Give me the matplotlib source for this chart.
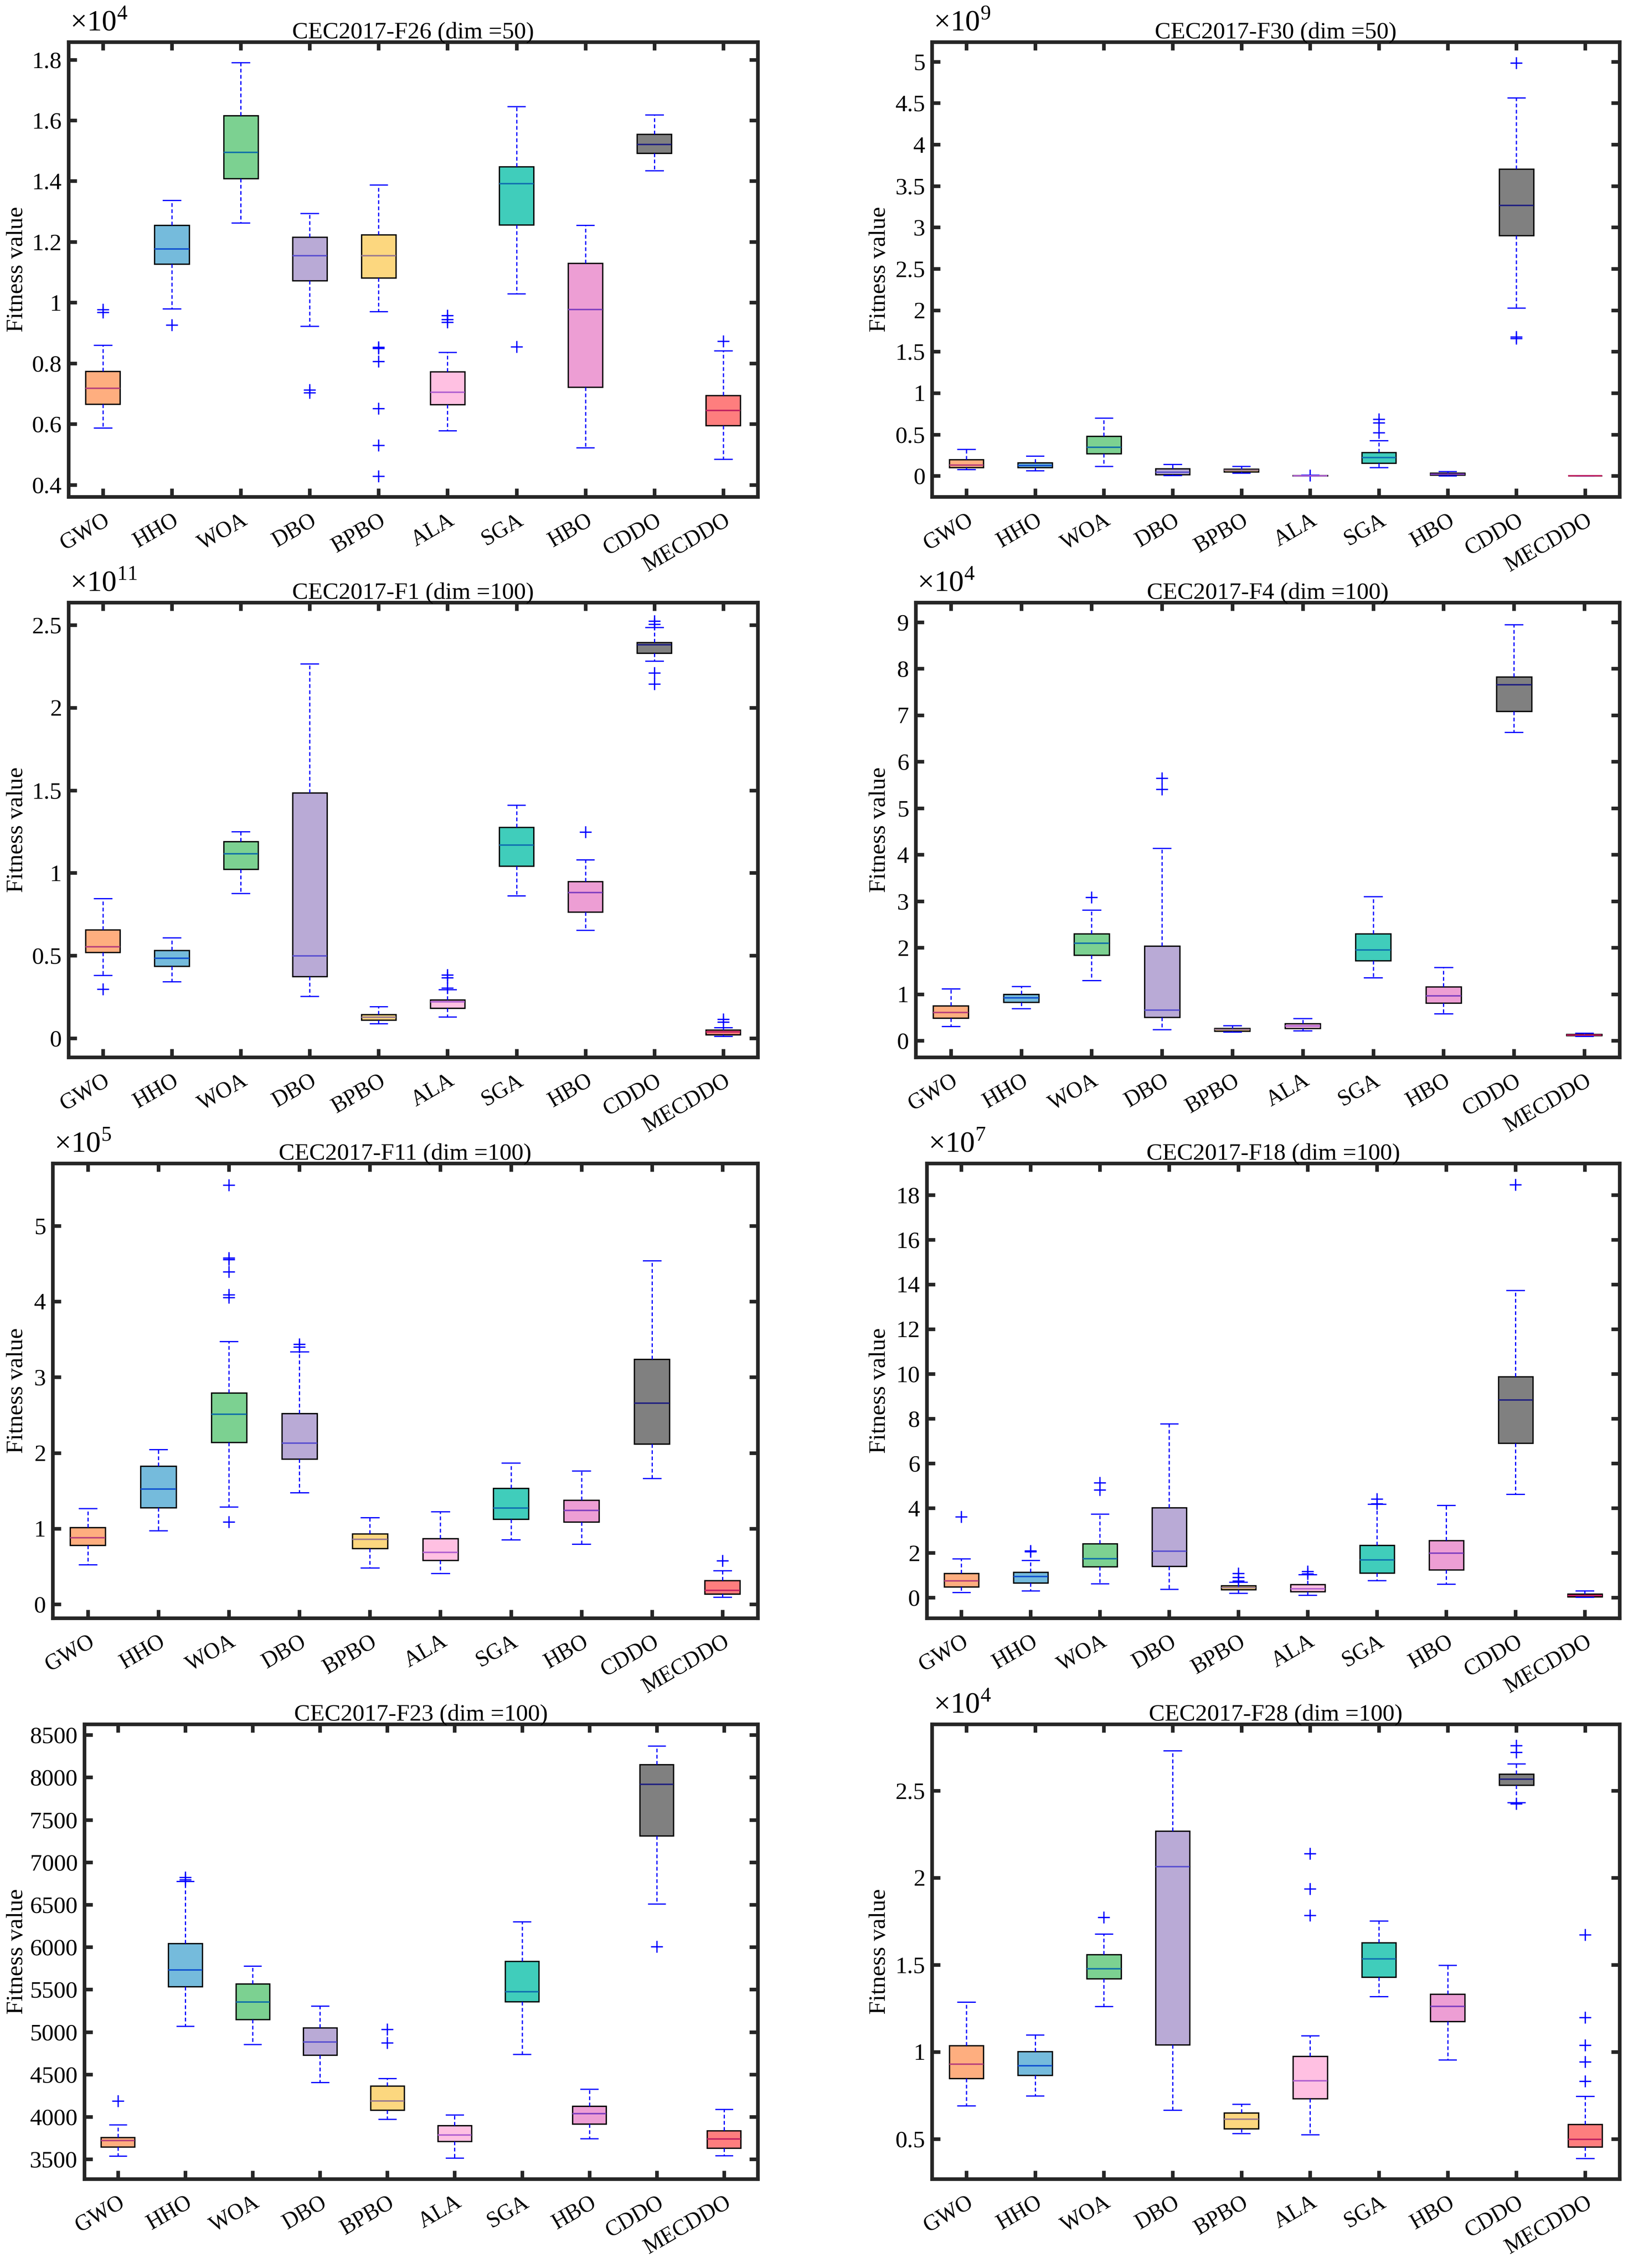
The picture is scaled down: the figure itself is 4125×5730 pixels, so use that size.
import numpy as np
import matplotlib
matplotlib.use('Agg')
import matplotlib.pyplot as plt
from matplotlib.ticker import FuncFormatter

plt.rcParams['font.family'] = ['Liberation Serif', 'DejaVu Serif']
plt.rcParams['mathtext.fontset'] = 'custom'
plt.rcParams['mathtext.rm'] = 'Liberation Serif'
plt.rcParams['font.size'] = 14.5

ALGOS = ['GWO', 'HHO', 'WOA', 'DBO', 'BPBO', 'ALA', 'SGA', 'HBO', 'CDDO', 'MECDDO']
BOX_COLORS = ['#FEAE7F', '#75BBDC', '#7CD191', '#B9AAD6', '#FCD77F',
              '#FFC0E2', '#40CDBB', '#ED9ED4', '#808080', '#FE7E7E']
MED_COLORS = ['#B8407A', '#1050D0', '#106FA8', '#5A50D0', '#9A7A90',
              '#B060D0', '#1070B0', '#8040C0', '#202080', '#C02060']

# CEC2017-F26 (dim=50), x1e4
f26_lo = [0.587, 0.980, 1.262, 0.923, 0.971, 0.579, 1.029, 0.523, 1.435, 0.484]
f26_q1 = [0.666, 1.127, 1.408, 1.072, 1.081, 0.664, 1.256, 0.722, 1.492, 0.595]
f26_med = [0.718, 1.176, 1.495, 1.155, 1.154, 0.705, 1.392, 0.977, 1.520, 0.645]
f26_q3 = [0.774, 1.255, 1.616, 1.216, 1.223, 0.773, 1.447, 1.129, 1.555, 0.694]
f26_hi = [0.860, 1.337, 1.790, 1.294, 1.388, 0.836, 1.645, 1.255, 1.618, 0.842]
f26_out = [[0.977, 0.968], [0.926], [], [0.712, 0.704],
           [0.853, 0.849, 0.806, 0.652, 0.530, 0.428], [0.958, 0.945, 0.935],
           [0.855], [], [], [0.873]]

# CEC2017-F30 (dim=50), x1e9
f30_lo = [0.078, 0.061, 0.117, 0.004, 0.035, 0.000, 0.100, 0.000, 2.025, 0.0005]
f30_q1 = [0.100, 0.100, 0.269, 0.017, 0.048, 0.001, 0.152, 0.009, 2.901, 0.001]
f30_med = [0.130, 0.126, 0.347, 0.043, 0.069, 0.002, 0.221, 0.022, 3.265, 0.0015]
f30_q3 = [0.195, 0.156, 0.477, 0.087, 0.082, 0.004, 0.282, 0.035, 3.703, 0.002]
f30_hi = [0.321, 0.239, 0.698, 0.139, 0.113, 0.008, 0.425, 0.052, 4.566, 0.003]
f30_out = [[], [], [], [], [], [0.006], [0.685, 0.642, 0.520], [],
           [4.987, 1.680, 1.660], []]

# CEC2017-F1 (dim=100), x1e11
f1_lo = [0.380, 0.343, 0.875, 0.254, 0.089, 0.128, 0.862, 0.653, 2.283, 0.011]
f1_q1 = [0.519, 0.436, 1.022, 0.373, 0.109, 0.182, 1.042, 0.764, 2.331, 0.022]
f1_med = [0.553, 0.484, 1.115, 0.497, 0.126, 0.219, 1.168, 0.881, 2.381, 0.037]
f1_q3 = [0.655, 0.532, 1.189, 1.484, 0.143, 0.232, 1.276, 0.948, 2.394, 0.050]
f1_hi = [0.846, 0.608, 1.250, 2.266, 0.191, 0.295, 1.411, 1.079, 2.487, 0.065]
f1_out = [[0.297], [], [], [], [], [0.382, 0.365, 0.304], [], [1.248],
          [2.524, 2.504, 2.211, 2.144], [0.115, 0.098]]

# CEC2017-F4 (dim=100), x1e4
f4_lo = [0.308, 0.692, 1.292, 0.238, 0.185, 0.215, 1.354, 0.577, 6.631, 0.092]
f4_q1 = [0.485, 0.831, 1.838, 0.500, 0.208, 0.269, 1.723, 0.808, 7.085, 0.108]
f4_med = [0.608, 0.923, 2.092, 0.654, 0.238, 0.315, 1.954, 0.962, 7.654, 0.123]
f4_q3 = [0.746, 1.000, 2.300, 2.031, 0.262, 0.369, 2.300, 1.162, 7.823, 0.138]
f4_hi = [1.115, 1.169, 2.808, 4.138, 0.323, 0.477, 3.100, 1.577, 8.946, 0.162]
f4_out = [[], [], [3.085], [5.646, 5.408], [], [], [], [], [], []]

# CEC2017-F11 (dim=100), x1e5
f11_lo = [0.526, 0.975, 1.288, 1.473, 0.483, 0.407, 0.852, 0.795, 1.662, 0.095]
f11_q1 = [0.781, 1.278, 2.140, 1.922, 0.739, 0.582, 1.127, 1.089, 2.116, 0.137]
f11_med = [0.881, 1.520, 2.509, 2.131, 0.857, 0.687, 1.274, 1.241, 2.656, 0.185]
f11_q3 = [1.018, 1.828, 2.794, 2.519, 0.933, 0.871, 1.534, 1.378, 3.239, 0.313]
f11_hi = [1.269, 2.045, 3.471, 3.338, 1.146, 1.226, 1.870, 1.761, 4.536, 0.445]
f11_out = [[], [], [5.535, 4.575, 4.555, 4.394, 4.090, 4.053, 1.089],
           [3.433, 3.400], [], [], [], [], [], [0.578]]

# CEC2017-F18 (dim=100), x1e7
f18_lo = [0.240, 0.304, 0.625, 0.385, 0.192, 0.112, 0.769, 0.609, 4.615, 0.016]
f18_q1 = [0.481, 0.657, 1.378, 1.410, 0.353, 0.272, 1.106, 1.250, 6.907, 0.048]
f18_med = [0.753, 0.946, 1.731, 2.083, 0.449, 0.401, 1.683, 1.987, 8.830, 0.096]
f18_q3 = [1.090, 1.138, 2.420, 4.022, 0.529, 0.593, 2.340, 2.548, 9.872, 0.160]
f18_hi = [1.731, 1.667, 3.734, 7.772, 0.689, 1.040, 4.180, 4.119, 13.73, 0.304]
f18_out = [[3.62], [2.10, 2.05], [5.14, 4.82], [], [1.09, 0.90, 0.74],
           [1.17, 1.07], [4.41, 4.20], [], [18.45], []]

# CEC2017-F23 (dim=100)
f23_lo = [3539, 5069, 4851, 4405, 3972, 3513, 4737, 3745, 6507, 3544]
f23_q1 = [3644, 5532, 5148, 4728, 4081, 3710, 5357, 3915, 7311, 3631]
f23_med = [3719, 5729, 5353, 4881, 4186, 3784, 5475, 4038, 7919, 3740]
f23_q3 = [3758, 6044, 5567, 5047, 4361, 3898, 5834, 4125, 8150, 3837]
f23_hi = [3906, 6774, 5777, 5305, 4453, 4024, 6301, 4326, 8369, 4090]
f23_out = [[4186], [6822, 6795], [], [], [5030, 4872], [], [], [], [6004], []]

# CEC2017-F28 (dim=100), x1e4
f28_lo = [0.690, 0.747, 1.260, 0.666, 0.530, 0.523, 1.318, 0.954, 2.432, 0.387]
f28_q1 = [0.847, 0.866, 1.420, 1.039, 0.558, 0.732, 1.429, 1.173, 2.530, 0.453]
f28_med = [0.928, 0.920, 1.476, 2.063, 0.613, 0.834, 1.533, 1.260, 2.564, 0.496]
f28_q3 = [1.035, 1.001, 1.559, 2.268, 0.649, 0.973, 1.627, 1.331, 2.594, 0.583]
f28_hi = [1.286, 1.096, 1.676, 2.728, 0.700, 1.092, 1.752, 1.497, 2.653, 0.745]
f28_out = [[], [], [1.772], [], [], [2.138, 1.936, 1.784], [], [],
           [2.758, 2.719, 2.425], [1.671, 1.196, 1.037, 0.943, 0.832]]

panels = [
    ('CEC2017-F26 (dim =50)', 4, f26_lo, f26_q1, f26_med, f26_q3, f26_hi, f26_out,
     (0.361, 1.858), [0.4, 0.6, 0.8, 1.0, 1.2, 1.4, 1.6, 1.8]),
    ('CEC2017-F30 (dim =50)', 9, f30_lo, f30_q1, f30_med, f30_q3, f30_hi, f30_out,
     (-0.252, 5.238), [0, 0.5, 1, 1.5, 2, 2.5, 3, 3.5, 4, 4.5, 5]),
    ('CEC2017-F1 (dim =100)', 11, f1_lo, f1_q1, f1_med, f1_q3, f1_hi, f1_out,
     (-0.115, 2.637), [0, 0.5, 1, 1.5, 2, 2.5]),
    ('CEC2017-F4 (dim =100)', 4, f4_lo, f4_q1, f4_med, f4_q3, f4_hi, f4_out,
     (-0.354, 9.423), [0, 1, 2, 3, 4, 5, 6, 7, 8, 9]),
    ('CEC2017-F11 (dim =100)', 5, f11_lo, f11_q1, f11_med, f11_q3, f11_hi, f11_out,
     (-0.18, 5.824), [0, 1, 2, 3, 4, 5]),
    ('CEC2017-F18 (dim =100)', 7, f18_lo, f18_q1, f18_med, f18_q3, f18_hi, f18_out,
     (-0.91, 19.41), [0, 2, 4, 6, 8, 10, 12, 14, 16, 18]),
    ('CEC2017-F23 (dim =100)', None, f23_lo, f23_q1, f23_med, f23_q3, f23_hi, f23_out,
     (3268, 8627), [3500, 4000, 4500, 5000, 5500, 6000, 6500, 7000, 7500, 8000, 8500]),
    ('CEC2017-F28 (dim =100)', 4, f28_lo, f28_q1, f28_med, f28_q3, f28_hi, f28_out,
     (0.270, 2.881), [0.5, 1, 1.5, 2, 2.5]),
]

# axes rectangles (figure fractions) - left edge shifts with tick label width
lefts = [0.0419, 0.5707, 0.0419, 0.5607, 0.0322, 0.5675, 0.0516, 0.5707]
rights = [0.464, 0.9917] * 4
bottoms = [0.781, 0.781, 0.5339, 0.5339, 0.2866, 0.2866, 0.0393, 0.0393]
height = 0.2005
label_x = [0.0105, 0.5387]


def draw_panel(ax, title, expo, lo, q1, med, q3, hi, out, ylim, yticks):
    stats = []
    for i in range(len(ALGOS)):
        stats.append(dict(whislo=lo[i], q1=q1[i], med=med[i], q3=q3[i],
                          whishi=hi[i], fliers=np.array(out[i]), label=ALGOS[i]))
    bp = ax.bxp(stats, positions=range(1, len(ALGOS) + 1), widths=0.5,
                capwidths=0.25, patch_artist=True, showfliers=True,
                boxprops=dict(edgecolor='k', linewidth=0.8),
                whiskerprops=dict(color='blue', linestyle=(0, (3, 2)), linewidth=0.75),
                capprops=dict(color='blue', linewidth=0.75),
                flierprops=dict(marker='+', markeredgecolor='blue', markersize=7,
                                markeredgewidth=0.8, linestyle='none'),
                medianprops=dict(linewidth=0.9))
    for patch, c in zip(bp['boxes'], BOX_COLORS):
        patch.set_facecolor(c)
    for m, c in zip(bp['medians'], MED_COLORS):
        m.set_color(c)

    ax.set_xlim(0.5, len(ALGOS) + 0.5)
    ax.set_ylim(*ylim)
    ax.set_yticks(yticks)
    ax.yaxis.set_major_formatter(FuncFormatter(lambda v, p: '%g' % v))
    ax.set_xticks(range(1, len(ALGOS) + 1))
    ax.set_xticklabels(ALGOS, rotation=30, ha='right', va='top',
                       rotation_mode='anchor', fontsize=13.5)
    ax.tick_params(direction='in', top=True, right=True, length=5, width=2.2,
                   color='#262626')
    ax.tick_params(axis='y', pad=4, labelsize=14.5)
    ax.tick_params(axis='x', pad=8)
    for s in ax.spines.values():
        s.set_linewidth(2.2)
        s.set_color('#262626')
    ax.set_title(title, fontsize=14.5, pad=2)
    if expo is not None:
        ax.annotate(r'$\times10^{%d}$' % expo, xy=(0, 1), xycoords='axes fraction',
                    xytext=(1, 3), textcoords='offset points',
                    ha='left', va='bottom', fontsize=18)


fig = plt.figure(figsize=(13.75, 19.1), dpi=300)
for k, p in enumerate(panels):
    ax = fig.add_axes([lefts[k], bottoms[k], rights[k] - lefts[k], height])
    draw_panel(ax, *p)
    ax.set_ylabel('Fitness value', fontsize=14.5, va='center')
    ax.yaxis.set_label_coords(label_x[k % 2], bottoms[k] + height / 2,
                              transform=fig.transFigure)

fig.savefig('out.png', dpi=300, facecolor='white')
